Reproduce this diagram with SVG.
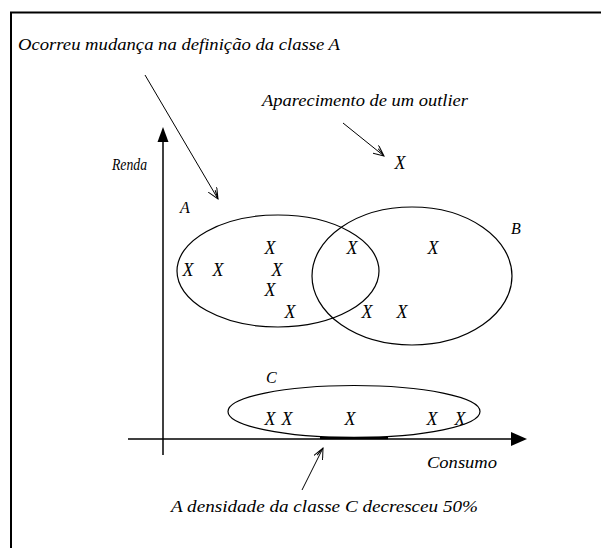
<svg xmlns="http://www.w3.org/2000/svg" width="601" height="548" viewBox="0 0 601 548">
<style>
text{font-family:"Liberation Serif","DejaVu Serif",serif;font-style:italic;fill:#000}
.lbl{font-size:16px}
.x{font-size:18px;text-anchor:middle}
.ell{fill:none;stroke:#000;stroke-width:1.2}
.ax{stroke:#000;stroke-width:1.5;fill:none}
.thin{stroke:#000;stroke-width:1;fill:none}
</style>
<defs>
<marker id="open" viewBox="0 0 12 10" refX="11" refY="5" markerWidth="12" markerHeight="10" markerUnits="userSpaceOnUse" orient="auto">
<path d="M0,0 L11,5 L0,10 M2,3 L11,5" fill="none" stroke="#000" stroke-width="1"/>
</marker>
</defs>
<rect width="601" height="548" fill="#fff"/>
<g id="frame">
<path d="M11,548 V12.5 H601" fill="none" stroke="#000" stroke-width="2"/>
</g>
<g id="axes">
<line class="ax" x1="163" y1="140" x2="163" y2="455"/>
<polygon points="163,127 157.5,142 168.5,142" fill="#000"/>
<line class="ax" x1="128" y1="439" x2="513" y2="439"/>
<polygon points="527,439 511,432 511,446" fill="#000"/>
<text class="lbl" x="112" y="170" textLength="35" lengthAdjust="spacingAndGlyphs">Renda</text>
<text class="lbl" x="427" y="468" textLength="70" lengthAdjust="spacingAndGlyphs">Consumo</text>
</g>
<g id="classA">
<ellipse class="ell" cx="278" cy="271" rx="101" ry="56"/>
<text class="lbl" x="180" y="213">A</text>
</g>
<g id="classB">
<ellipse class="ell" cx="412" cy="276" rx="100" ry="69"/>
<text class="lbl" x="511" y="234">B</text>
</g>
<g id="classC">
<ellipse class="ell" cx="354" cy="411.5" rx="126" ry="26"/>
<line x1="320" y1="438" x2="388" y2="438" stroke="#000" stroke-width="2.5"/>
<text class="lbl" x="266" y="383">C</text>
</g>
<g id="points">
<text class="x" x="270" y="254">X</text>
<text class="x" x="188" y="276">X</text>
<text class="x" x="218" y="276">X</text>
<text class="x" x="277" y="276">X</text>
<text class="x" x="270" y="296">X</text>
<text class="x" x="290" y="318">X</text>
<text class="x" x="352" y="254">X</text>
<text class="x" x="433" y="254">X</text>
<text class="x" x="367" y="318">X</text>
<text class="x" x="402" y="318">X</text>
<text class="x" x="400" y="169">X</text>
<text class="x" x="270" y="425">X</text>
<text class="x" x="287" y="425">X</text>
<text class="x" x="350" y="425">X</text>
<text class="x" x="432" y="425">X</text>
<text class="x" x="460" y="425">X</text>
</g>
<g id="annotations">
<text class="lbl" x="18" y="50" textLength="322" lengthAdjust="spacingAndGlyphs">Ocorreu mudança na definição da classe A</text>
<text class="lbl" x="262" y="106" textLength="206" lengthAdjust="spacingAndGlyphs">Aparecimento de um outlier</text>
<text class="lbl" x="171" y="512" textLength="307" lengthAdjust="spacingAndGlyphs">A densidade da classe C decresceu 50%</text>
</g>
<g id="connectors">
<line class="thin" x1="145" y1="75" x2="218" y2="199" marker-end="url(#open)"/>
<line class="thin" x1="343" y1="123" x2="384" y2="156" marker-end="url(#open)"/>
<line class="thin" x1="302" y1="490" x2="323" y2="448" marker-end="url(#open)"/>
</g>
</svg>
